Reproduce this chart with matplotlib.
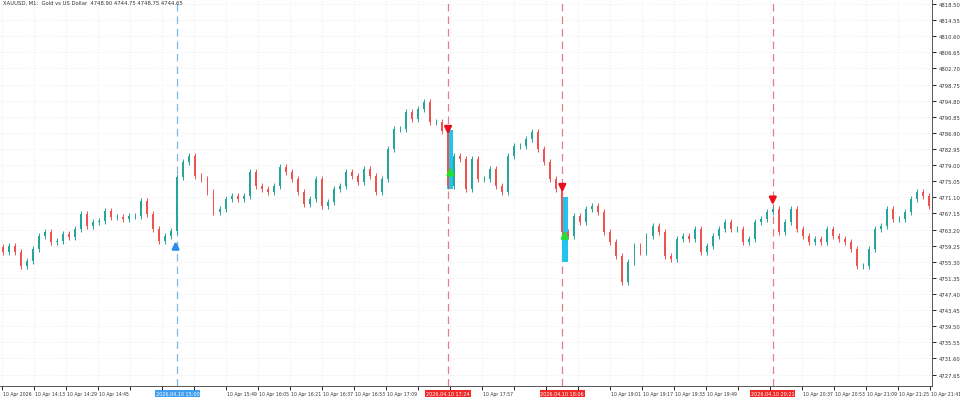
import numpy as np
import matplotlib.pyplot as plt
from matplotlib.patches import Rectangle

# closing prices, one per displayed candle
closes = [
    4757.67, 4759.14, 4757.67, 4754.24, 4755.46, 4758.40, 4761.59, 4762.57, 4760.12, 4760.37,
    4762.08, 4761.35, 4763.31, 4767.00, 4764.05, 4765.03, 4765.27, 4767.72, 4766.25, 4766.25,
    4765.76, 4766.50, 4766.50, 4770.18, 4767.00, 4763.31, 4760.37, 4761.59, 4762.82, 4776.07,
    4779.75, 4781.22, 4776.31, 4775.58, 4772.39, 4767.48, 4768.22, 4770.67, 4771.41, 4770.67,
    4771.41, 4777.29, 4773.86, 4773.12, 4772.39, 4773.86, 4778.52, 4777.29, 4775.58, 4772.39,
    4769.44,
    4770.67, 4775.58, 4768.95, 4769.93, 4773.12, 4773.86, 4777.29, 4776.31, 4774.84, 4778.03,
    4776.31, 4772.39, 4775.58, 4782.94, 4787.84, 4787.84, 4792.01, 4790.27, 4792.75, 4794.46,
    4789.56, 4789.56, 4787.35, 4773.86, 4781.22, 4780.48, 4773.12, 4780.48, 4775.58, 4775.58,
    4778.03, 4773.86, 4772.39, 4781.22, 4783.67, 4783.67, 4785.39, 4787.10, 4782.94, 4779.75,
    4775.58, 4773.12, 4762.57, 4761.59, 4766.50, 4765.03, 4768.22, 4768.95, 4767.48, 4762.57,
    4760.12, 4756.68, 4750.31, 4755.21, 4759.14,
    4757.67, 4761.59, 4764.05, 4762.57, 4756.68, 4755.95, 4760.86, 4761.59, 4760.86, 4763.31,
    4757.67, 4759.14, 4761.59, 4763.31, 4765.03, 4763.31, 4763.31, 4760.12, 4760.86, 4765.03,
    4765.76, 4767.48, 4768.22, 4762.57, 4765.03, 4768.22, 4763.31, 4761.59, 4760.12, 4760.86,
    4760.12, 4763.31, 4761.59, 4760.86, 4760.12, 4758.40, 4754.24, 4754.24, 4758.40, 4763.31,
    4764.05, 4768.22, 4765.76, 4765.76, 4767.48, 4770.67, 4772.39, 4771.41, 4768.95,
]
first_open = 4758.9

buy_signal = 29            # blue dashed line
sell_signals = [74, 93, 128]  # red dashed lines
boxes = [(74, 4787.6, 4773.1), (93, 4771.1, 4755.2)]  # (idx, top, bottom)
green_up = [(74, 4777.0), (93, 4761.5)]

y_ticks = np.round(np.arange(4727.65, 4818.51, 3.95), 2)
x_labels = ["10 Apr 2026"] + ["10 Apr %d:%02d" % divmod(14 * 60 + 13 + 16 * k, 60) for k in range(29)]
marker_labels = [(29, "2026.04.10 15:00", "#3d9df0"), (74, "2026.04.10 17:24", "#f02828"),
                 (93, "2026.04.10 18:06", "#f02828"), (128, "2026.04.10 20:21", "#f02828")]

n = len(closes)
opens = [first_open] + closes[:-1]

fig = plt.figure(figsize=(9.6, 4.02), dpi=100)
ax = fig.add_axes([0.0, 0.037, 0.971, 0.963])
ax.set_xlim(-0.5, n - 0.5)
ax.set_ylim(4724.8, 4819.73)

up_c, dn_c = "#26a69a", "#ef5350"
for i in range(n):
    o, c = opens[i], closes[i]
    col = up_c if c >= o else dn_c
    hi, lo = max(o, c) + 0.7, min(o, c) - 0.7
    ax.vlines(i, lo, hi, color=col, lw=0.7, zorder=3)
    ax.add_patch(Rectangle((i - 0.16, min(o, c)), 0.32, max(abs(c - o), 0.08),
                           color=col, lw=0, zorder=4))

ax.axvline(buy_signal, color="#7fb8e0", ls=(0, (6, 4)), lw=0.9, zorder=2)
for s in sell_signals:
    ax.axvline(s, color="#e07f8a", ls=(0, (6, 4)), lw=0.9, zorder=2)
for idx, top, bot in boxes:
    ax.add_patch(Rectangle((idx - 0.1, bot), 1.0, top - bot, color="#22c4ee", lw=0, zorder=2.5))

arrow_kw = dict(lw=1.8, mutation_scale=10)
for s in sell_signals:
    tip = closes[s - 1] - 1.5 if s != 128 else closes[s] + 0.3
    ax.annotate("", xy=(s, tip), xytext=(s, tip + 3.0),
                arrowprops=dict(arrowstyle="-|>", color="#e8101a", **arrow_kw), zorder=6)
for idx, p in green_up:
    ax.annotate("", xy=(idx + 0.4, p + 2.2), xytext=(idx + 0.4, p - 0.8),
                arrowprops=dict(arrowstyle="-|>", color="#22e033", **arrow_kw), zorder=6)
ax.annotate("", xy=(buy_signal - 0.3, closes[buy_signal - 1] - 1.8),
            xytext=(buy_signal - 0.3, closes[buy_signal - 1] - 4.6),
            arrowprops=dict(arrowstyle="-|>", color="#2a8cf0", **arrow_kw), zorder=6)

ax.set_yticks(y_ticks)
ax.grid(True, color="#ececec", ls=(0, (2, 2)), lw=0.5)
ax.yaxis.tick_right()
ax.set_yticklabels(["%.2f" % v for v in y_ticks], fontsize=3.8, color="#333333")
ax.tick_params(axis="y", length=3, width=0.6, pad=1.5)

# x labels at fixed pixel spacing, those under the marker boxes are hidden
px_to_idx = lambda px: -0.5 + px * n / 932.0
tick_pos = [px_to_idx(2)] + [px_to_idx(34 + 32 * k) for k in range(29)]
ax.set_xticks(tick_pos)
ax.set_xticklabels([])
ax.tick_params(axis="x", length=3, width=0.6)
for p, lab in zip(tick_pos, x_labels):
    if any(-4.5 < idx - p < 8.6 for idx, _, _ in marker_labels):
        continue
    ax.text(p + 0.15, -0.012, lab, transform=ax.get_xaxis_transform(), fontsize=3.3,
            color="#333333", ha="left", va="top", clip_on=False)
for idx, lab, col in marker_labels:
    ax.text(idx, -0.012, lab, transform=ax.get_xaxis_transform(), fontsize=3.5, color="white",
            ha="center", va="top", zorder=10, clip_on=False,
            bbox=dict(boxstyle="square,pad=0.15", fc=col, ec="none"))

for sp in ["top", "left"]:
    ax.spines[sp].set_visible(False)
for sp in ["right", "bottom"]:
    ax.spines[sp].set_linewidth(0.7)
    ax.spines[sp].set_color("#555555")

ax.text(0.003, 0.997, "XAUUSD, M1:  Gold vs US Dollar  4748.90 4744.75 4748.75 4744.65",
        transform=ax.transAxes, fontsize=3.8, color="#333333", ha="left", va="top")

fig.savefig("out.png", dpi=100)
